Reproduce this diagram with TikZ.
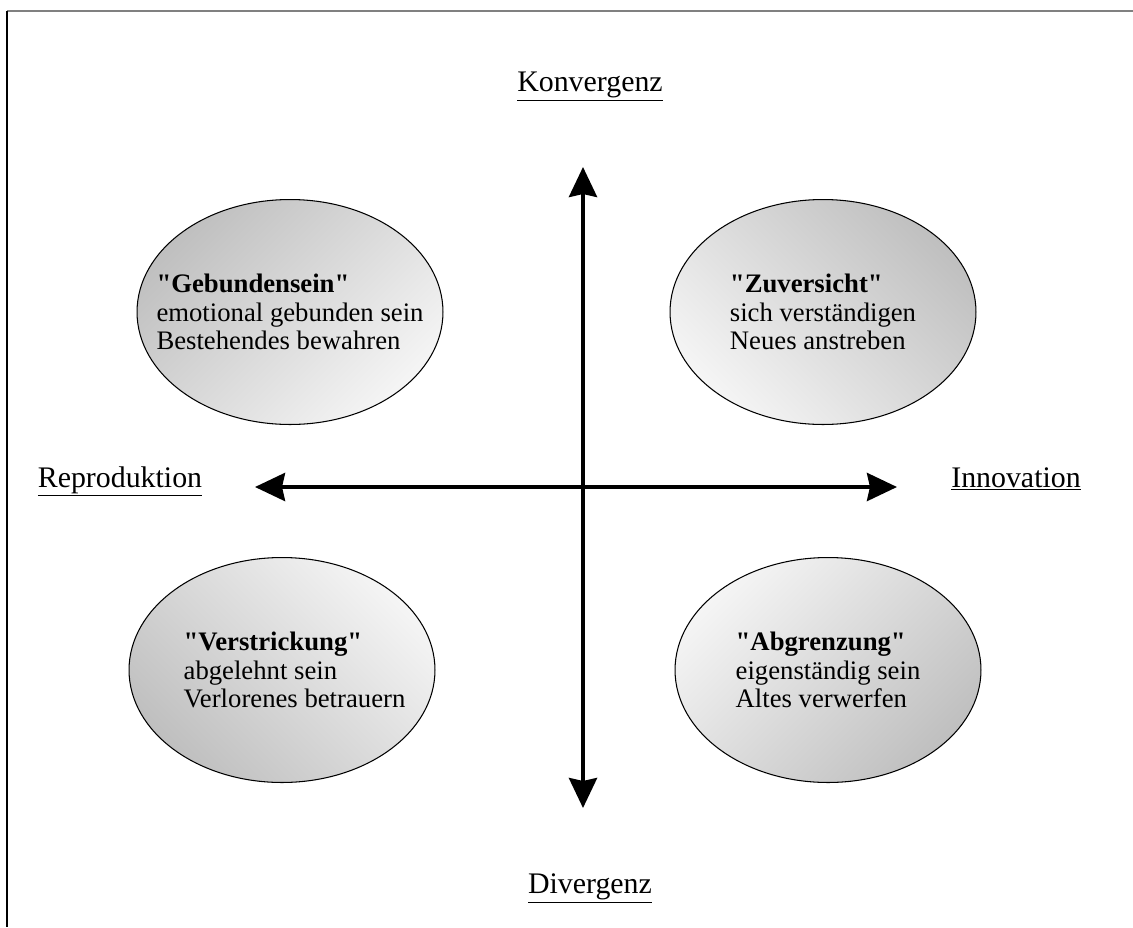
\documentclass[tikz,border=0pt]{standalone}
\usepackage{fontspec}
\setmainfont{Liberation Serif}
\usetikzlibrary{shapes.geometric, arrows.meta}

\begin{document}
\begin{tikzpicture}[x=0.02cm, y=-0.02cm,
  quad/.style={ellipse, draw=black, line width=0.6pt, inner sep=0pt,
    minimum width=6.12cm, minimum height=4.5cm, top color=gray!50, bottom color=gray!8},
  quadtext/.style={align=left, font=\fontsize{15.2pt}{16.4pt}\selectfont},
  axislabel/.style={anchor=base, font=\fontsize{17pt}{20pt}\selectfont},
  axisline/.style={line width=2.3pt, >={Stealth[length=0.6cm, width=0.56cm, inset=0.06cm]}, <->}]

\useasboundingbox (0,0) rectangle (1133,927);

% Frame
\draw[gray, line width=0.8pt] (7,11) -- (1133,11);
\draw[black, line width=0.8pt] (7,11) -- (7,927);

% Axis ends
\coordinate (top) at (583,167);
\coordinate (bottom) at (583,808);
\coordinate (left) at (255,487);
\coordinate (right) at (897,487);

% Axes
\draw[axisline] (left) -- (right);
\draw[axisline] (top) -- (bottom);

% Axis labels
\node[axislabel] (konv) at (590,91) {\underline{Konvergenz}};
\node[axislabel] (div) at (590,893) {\underline{Divergenz}};
\node[axislabel] (repro) at (120,487) {\underline{Reproduktion}};
\node[axislabel] (inno) at (1016,487) {\underline{Innovation}};

% Quadrant ellipses
\node[quad, shading angle=45] (gebunden) at (290,312) {};
\node[quad, shading angle=-45] (zuversicht) at (823,312) {};
\node[quad, shading angle=135] (verstrickung) at (282,670) {};
\node[quad, shading angle=-135] (abgrenzung) at (828,670) {};

% Quadrant texts
\node[quadtext] (tgebunden) at (gebunden) {\textbf{\textquotedbl Gebundensein\textquotedbl}\\emotional gebunden sein\\Bestehendes bewahren};
\node[quadtext] (tzuversicht) at (zuversicht) {\textbf{\textquotedbl Zuversicht\textquotedbl}\\sich verständigen\\Neues anstreben};
\node[quadtext] (tverstrickung) at ([xshift=0.25cm]verstrickung) {\textbf{\textquotedbl Verstrickung\textquotedbl}\\abgelehnt sein\\Verlorenes betrauern};
\node[quadtext] (tabgrenzung) at (abgrenzung) {\textbf{\textquotedbl Abgrenzung\textquotedbl}\\eigenständig sein\\Altes verwerfen};

\end{tikzpicture}
\end{document}
